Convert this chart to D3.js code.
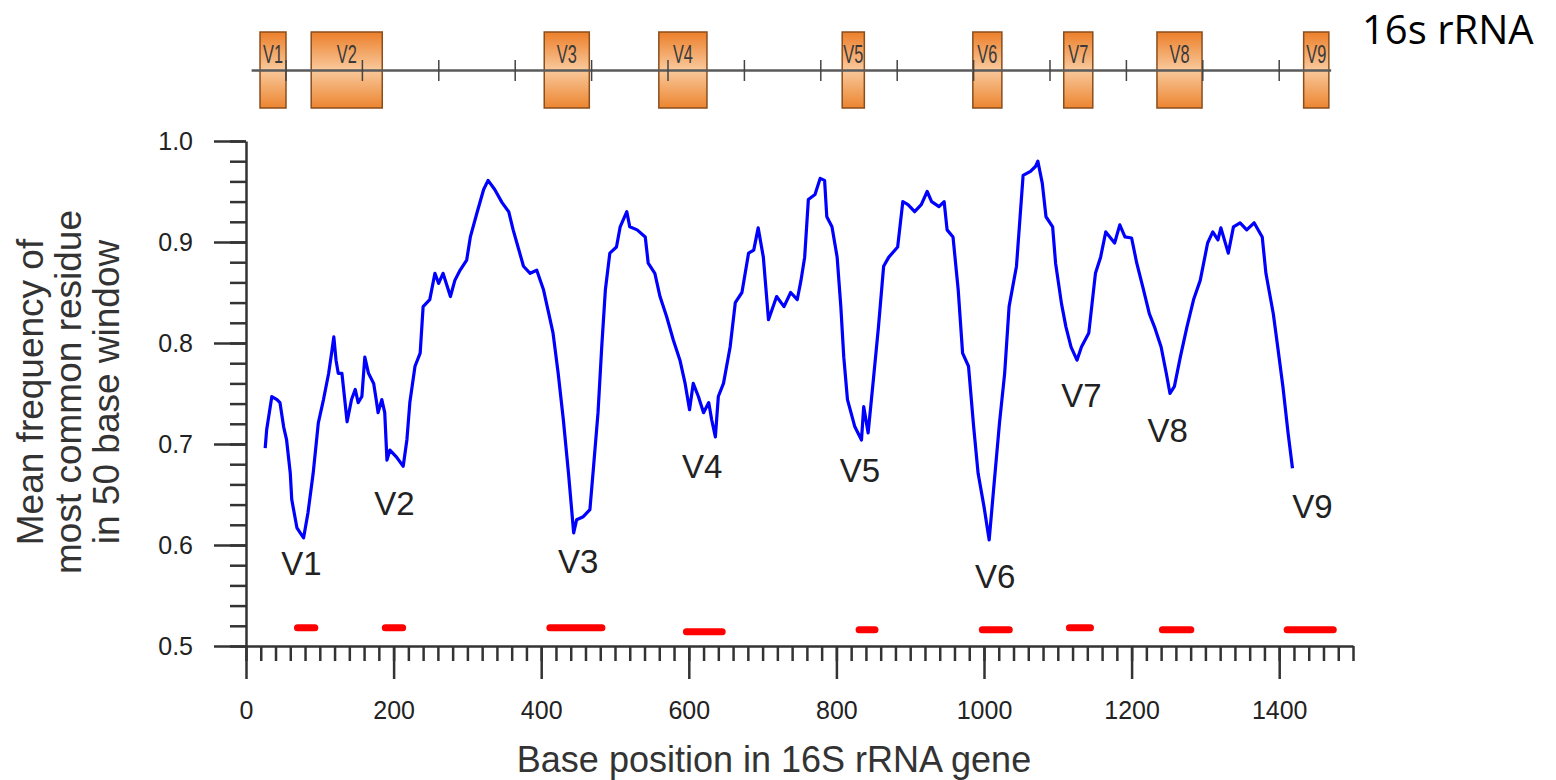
<!DOCTYPE html>
<meta charset="utf-8">
<style>
  body { margin: 0; background: #fff; }
  svg text { font-family: "Liberation Sans", Arial, sans-serif; fill: #222; }
  .axis path, .axis line { stroke: #333; stroke-width: 2.5px; }
  .axis text { font-size: 25px; fill: #222; }
</style>
<body>
<script src="https://d3js.org/d3.v7.min.js"></script>
<script>
  // base position (bp) of the sliding window and the mean frequency
  var positions = [26, 28, 35, 42, 46, 51, 55, 60, 62, 69, 78, 84, 91, 98, 105, 112, 116, 119, 122, 125,
    130, 137, 143, 148, 152, 157, 161, 166, 173, 177, 179, 184, 188, 191, 195, 204, 213, 218, 222, 229,
    236, 240, 249, 256, 261, 267, 277, 283, 290, 299, 304, 313, 322, 328, 337, 347, 356, 362, 369, 376,
    385, 394, 403, 410, 416, 423, 430, 437, 444, 448, 457, 466, 471, 477, 482, 487, 493, 502, 507, 516,
    520, 530, 541, 545, 554, 561, 570, 579, 588, 595, 601, 606, 613, 620, 627, 631, 636, 640, 647, 656,
    663, 672, 681, 688, 694, 701, 708, 719, 729, 738, 747, 752, 757, 762, 771, 778, 784, 787, 794, 801,
    806, 810, 815, 825, 834, 837, 843, 850, 857, 864, 871, 883, 890, 897, 906, 915, 923, 929, 939, 946,
    950, 958, 965, 971, 979, 986, 992, 1000, 1007, 1013, 1021, 1028, 1034, 1044, 1053, 1063, 1070, 1073, 1079, 1084,
    1093, 1097, 1105, 1111, 1118, 1126, 1132, 1142, 1151, 1158, 1165, 1177, 1184, 1191, 1200, 1207, 1216, 1224, 1231, 1240,
    1247, 1252, 1258, 1266, 1275, 1284, 1293, 1303, 1310, 1317, 1321, 1331, 1338, 1347, 1356, 1366, 1377, 1382, 1392, 1398,
    1405, 1412, 1418];
  var frequency = [.696, .714, .747, .744, .741, .717, .704, .671, .645, .617, .607, .632, .671, .721, .744, .770, .790, .806, .783, .770,
    .770, .722, .744, .754, .741, .747, .786, .770, .760, .741, .731, .744, .731, .684, .694, .687, .678, .704, .741, .777,
    .790, .836, .843, .869, .859, .869, .846, .862, .872, .882, .905, .929, .952, .961, .952, .939, .930, .912, .894, .876,
    .869, .872, .853, .830, .810, .770, .724, .671, .612, .625, .628, .635, .678, .731, .796, .853, .889, .895, .915, .930,
    .915, .912, .905, .879, .869, .846, .826, .803, .783, .760, .734, .760, .747, .731, .741, .724, .707, .747, .760, .796,
    .840, .850, .889, .892, .914, .885, .823, .846, .836, .850, .843, .862, .885, .942, .947, .963, .961, .925, .915, .885,
    .836, .786, .744, .717, .704, .737, .711, .763, .816, .876, .885, .895, .940, .937, .930, .937, .950, .940, .935, .940,
    .912, .905, .853, .790, .777, .717, .671, .638, .605, .655, .721, .770, .836, .876, .966, .970, .975, .980, .958, .925,
    .915, .879, .839, .816, .796, .783, .796, .810, .869, .885, .910, .899, .917, .905, .904, .879, .853, .829, .816, .796,
    .770, .750, .757, .786, .816, .843, .862, .899, .910, .902, .914, .889, .915, .919, .912, .919, .905, .869, .829, .796,
    .757, .711, .676];

  // variable regions
  var regionNames = ["V1", "V2", "V3", "V4", "V5", "V6", "V7", "V8", "V9"];
  // boxes on the gene map (map bp)
  var mapStart = [66, 133, 438, 588, 828, 999, 1118, 1240, 1432];
  var mapEnd = [100, 226, 497, 651, 857, 1037, 1156, 1299, 1465];
  // red segments under the curve
  var barStart = [65, 184, 407, 592, 826, 993, 1111, 1237, 1406];
  var barEnd = [98, 217, 487, 650, 857, 1039, 1149, 1285, 1478];
  var barLevel = [.518, .518, .518, .514, .516, .516, .518, .516, .516];
  // where the region names sit in the plot
  var labelPos = [75, 201, 450, 618, 832, 1015, 1132, 1249, 1445];
  var labelLevel = [.570, .630, .572, .666, .662, .557, .737, .702, .627];

  var xTicks = d3.range(0, 1401, 200);
  var xMinor = d3.range(0, 1501, 20);
  var yTicks = [0.5, 0.6, 0.7, 0.8, 0.9, 1.0];
  var yMinor = d3.range(0.5, 1.001, 0.02);

  var width = 1556, height = 780;

  var x = d3.scaleLinear().domain([0, 1500]).range([246, 1353]);
  var y = d3.scaleLinear().domain([0.5, 1.0]).range([646, 141]);
  var mapX = d3.scaleLinear().domain([0, 1400]).range([209.6, 1279.2]);

  var svg = d3.select("body").append("svg")
    .attr("width", width)
    .attr("height", height);

  svg.append("rect").attr("width", width).attr("height", height).attr("fill", "#fff");

  // ---- gene map on top ----
  var defs = svg.append("defs");
  var grad = defs.append("linearGradient")
    .attr("id", "boxGrad")
    .attr("x1", 0).attr("y1", 0).attr("x2", 0).attr("y2", 1);
  grad.append("stop").attr("offset", "0%").attr("stop-color", "#ec7f2a");
  grad.append("stop").attr("offset", "50%").attr("stop-color", "#f9c99c");
  grad.append("stop").attr("offset", "100%").attr("stop-color", "#ec8530");

  var map = svg.append("g").attr("class", "genemap");

  map.selectAll(".region")
    .data(regionNames)
    .enter()
    .append("rect")
    .attr("class", "region")
    .attr("x", function (d, i) { return mapX(mapStart[i]); })
    .attr("width", function (d, i) { return mapX(mapEnd[i]) - mapX(mapStart[i]); })
    .attr("y", 32)
    .attr("height", 76)
    .attr("fill", "url(#boxGrad)")
    .attr("stroke", "#8a4d1c")
    .attr("stroke-width", 1.5);

  map.append("line")
    .attr("x1", mapX(55)).attr("x2", mapX(1468))
    .attr("y1", 70.5).attr("y2", 70.5)
    .attr("stroke", "#5a5a5a")
    .attr("stroke-width", 2.5);

  map.selectAll(".mtick")
    .data(d3.range(100, 1401, 100))
    .enter()
    .append("line")
    .attr("class", "mtick")
    .attr("x1", function (d) { return mapX(d); })
    .attr("x2", function (d) { return mapX(d); })
    .attr("y1", 60).attr("y2", 81)
    .attr("stroke", "#444")
    .attr("stroke-width", 1.5);

  map.selectAll(".rlabel")
    .data(regionNames)
    .enter()
    .append("text")
    .attr("class", "rlabel")
    .attr("x", function (d, i) { return (mapX(mapStart[i]) + mapX(mapEnd[i])) / 2; })
    .attr("y", 63)
    .attr("text-anchor", "middle")
    .style("font-family", "'Liberation Sans Narrow', 'Liberation Sans', sans-serif")
    .style("font-size", "26px")
    .style("fill", "#3a3a3a")
    .attr("textLength", 20)
    .attr("lengthAdjust", "spacingAndGlyphs")
    .text(function (d) { return d; });

  svg.append("text")
    .attr("x", 1362)
    .attr("y", 44)
    .style("font-family", "'Open Sans', sans-serif")
    .style("font-size", "40px")
    .style("fill", "#000")
    .text("16s rRNA");

  // ---- axes ----
  svg.append("g")
    .attr("class", "axis")
    .attr("transform", "translate(0," + y(0.5) + ")")
    .call(d3.axisBottom(x).tickValues(xMinor).tickSize(15).tickSizeOuter(0).tickFormat(""));

  svg.append("g")
    .attr("class", "axis")
    .attr("transform", "translate(0," + y(0.5) + ")")
    .call(d3.axisBottom(x).tickValues(xTicks).tickSize(33).tickSizeOuter(0).tickPadding(22).tickFormat(d3.format("d")))
    .call(function (g) { g.select(".domain").remove(); });

  svg.append("g")
    .attr("class", "axis")
    .attr("transform", "translate(" + x(0) + ",0)")
    .call(d3.axisLeft(y).tickValues(yMinor).tickSize(16).tickSizeOuter(0).tickFormat(""));

  svg.append("g")
    .attr("class", "axis")
    .attr("transform", "translate(" + x(0) + ",0)")
    .call(d3.axisLeft(y).tickValues(yTicks).tickSize(32).tickSizeOuter(0).tickPadding(21).tickFormat(d3.format(".1f")))
    .call(function (g) { g.select(".domain").remove(); });

  // axis titles
  svg.append("text")
    .attr("x", 774)
    .attr("y", 772)
    .attr("text-anchor", "middle")
    .style("font-size", "36px")
    .style("fill", "#333")
    .text("Base position in 16S rRNA gene");

  var yTitle = ["Mean frequency of", "most common residue", "in 50 base window"];
  svg.selectAll(".ytitle")
    .data(yTitle)
    .enter()
    .append("text")
    .attr("class", "ytitle")
    .attr("transform", function (d, i) { return "translate(" + (43 + i * 38) + ",392) rotate(-90)"; })
    .attr("text-anchor", "middle")
    .style("font-size", "37px")
    .style("fill", "#333")
    .text(function (d) { return d; });

  // ---- curve ----
  var line = d3.line()
    .x(function (d, i) { return x(positions[i]); })
    .y(function (d) { return y(d); });

  svg.append("path")
    .datum(frequency)
    .attr("fill", "none")
    .attr("stroke", "#0000ff")
    .attr("stroke-width", 3.2)
    .attr("stroke-linejoin", "round")
    .attr("d", line);

  // red segments
  svg.selectAll(".seg")
    .data(regionNames)
    .enter()
    .append("line")
    .attr("class", "seg")
    .attr("x1", function (d, i) { return x(barStart[i]) + 3.5; })
    .attr("x2", function (d, i) { return x(barEnd[i]) - 3.5; })
    .attr("y1", function (d, i) { return y(barLevel[i]); })
    .attr("y2", function (d, i) { return y(barLevel[i]); })
    .attr("stroke", "#ff0000")
    .attr("stroke-width", 7)
    .attr("stroke-linecap", "round");

  // region labels in the plot
  svg.selectAll(".vlabel")
    .data(regionNames)
    .enter()
    .append("text")
    .attr("class", "vlabel")
    .attr("x", function (d, i) { return x(labelPos[i]); })
    .attr("y", function (d, i) { return y(labelLevel[i]); })
    .attr("text-anchor", "middle")
    .style("font-size", "33px")
    .text(function (d) { return d; });
</script>
</body>
